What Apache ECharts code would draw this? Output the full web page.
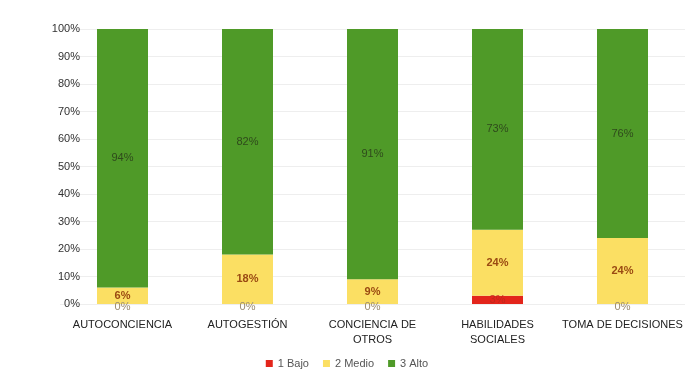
<!DOCTYPE html>
<html><head><meta charset="utf-8">
<script src="https://cdn.jsdelivr.net/npm/echarts@6/dist/echarts.min.js"></script>
<style>html,body{margin:0;padding:0;background:#fff}#c{width:694px;height:376px}</style>
</head><body><div id="c"></div>
<script>
const categories = ['AUTOCONCIENCIA', 'AUTOGESTIÓN', 'CONCIENCIA DE\nOTROS', 'HABILIDADES\nSOCIALES', 'TOMA DE DECISIONES'];
const bajo = [0, 0, 0, 3, 0];
const medio = [6, 18, 9, 24, 24];
const alto = [94, 82, 91, 73, 76];
const yTicks = [0, 10, 20, 30, 40, 50, 60, 70, 80, 90, 100];

const font = 'Liberation Sans';
const chart = echarts.init(document.getElementById('c'));
chart.setOption({
  animation: false,
  textStyle: { fontFamily: font },
  grid: { left: 60, right: 9, top: 29, bottom: 72 },
  legend: {
    bottom: 2, left: 'center', itemWidth: 7, itemHeight: 7, itemGap: 14,
    icon: 'rect',
    textStyle: { fontSize: 11, color: '#555', fontFamily: font },
    data: ['1 Bajo', '2 Medio', '3 Alto']
  },
  xAxis: {
    type: 'category', data: categories,
    axisLine: { show: false }, axisTick: { show: false },
    axisLabel: { margin: 13, fontSize: 11, color: '#222', lineHeight: 15, interval: 0 }
  },
  yAxis: {
    type: 'value', min: yTicks[0], max: yTicks[yTicks.length - 1], interval: 10,
    axisLine: { show: false }, axisTick: { show: false },
    axisLabel: { margin: -20, fontSize: 11, color: '#333', formatter: v => v + '%' },
    splitLine: { lineStyle: { color: '#eeeeee' } }
  },
  series: [
    { name: '1 Bajo', type: 'bar', stack: 't', barWidth: 51,
      data: bajo.map(v => v > 0 ? { value: v, label: { offset: [0, 0], color: '#c0281c' } } : v),
      itemStyle: { color: '#e3251b' },
      label: { show: true, position: 'inside', offset: [0, 3], formatter: '{c}%', fontSize: 11, color: '#9a8a70' } },
    { name: '2 Medio', type: 'bar', stack: 't', data: medio, barWidth: 51,
      itemStyle: { color: '#fbdf63' },
      label: { show: true, position: 'inside', formatter: '{c}%', fontSize: 11, fontWeight: 'bold', color: '#9a4a12' } },
    { name: '3 Alto', type: 'bar', stack: 't', data: alto, barWidth: 51,
      itemStyle: { color: '#4f9a28' },
      label: { show: true, position: 'inside', formatter: '{c}%', fontSize: 11, color: '#2f4a1c' } }
  ]
});
</script></body></html>
